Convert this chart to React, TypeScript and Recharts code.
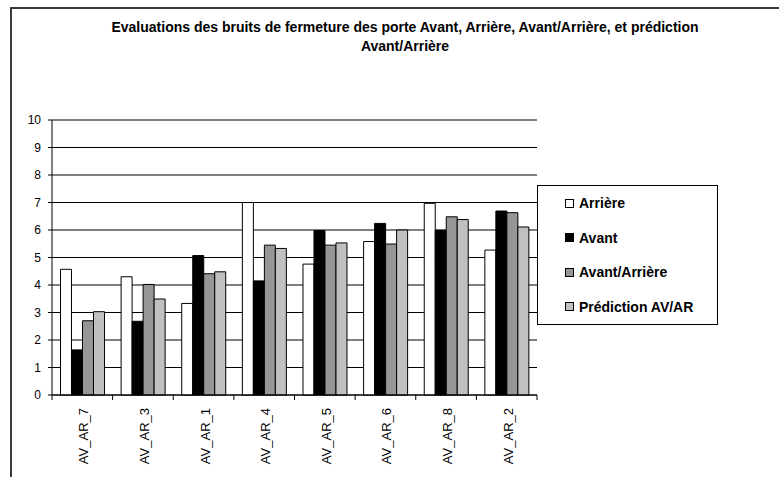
import React from "react";
import { BarChart, Bar, XAxis, YAxis, CartesianGrid } from "recharts";

const categories = ["AV_AR_7", "AV_AR_3", "AV_AR_1", "AV_AR_4", "AV_AR_5", "AV_AR_6", "AV_AR_8", "AV_AR_2"];
const arriere = [4.57, 4.3, 3.33, 7.0, 4.76, 5.58, 6.97, 5.27];
const avant = [1.64, 2.68, 5.07, 4.15, 5.98, 6.24, 5.99, 6.69];
const avantArriere = [2.7, 4.02, 4.41, 5.45, 5.45, 5.49, 6.48, 6.63];
const prediction = [3.03, 3.49, 4.48, 5.33, 5.53, 6.0, 6.38, 6.11];
const yTicks = [0, 1, 2, 3, 4, 5, 6, 7, 8, 9, 10];

const series = [
  { key: "arriere", name: "Arrière", color: "#ffffff" },
  { key: "avant", name: "Avant", color: "#000000" },
  { key: "avantArriere", name: "Avant/Arrière", color: "#969696" },
  { key: "prediction", name: "Prédiction AV/AR", color: "#c0c0c0" },
];

const data = categories.map((name, i) => ({
  name,
  arriere: arriere[i],
  avant: avant[i],
  avantArriere: avantArriere[i],
  prediction: prediction[i],
}));

const FONT = "'Liberation Sans', Arial, sans-serif";
const W = 779;
const H = 477;
const PLOT_LEFT = 52;
const PLOT_RIGHT = 537;
const PLOT_TOP = 120;
const PLOT_BOTTOM = 395;
const HALF_BAND = (PLOT_RIGHT - PLOT_LEFT) / categories.length / 2;

const XTick = (props: any) => {
  const { x, y, payload, index } = props;
  return (
    <g>
      <line x1={x - HALF_BAND} x2={x - HALF_BAND} y1={y} y2={y + 5} stroke="#000" />
      {index === categories.length - 1 && (
        <line x1={x + HALF_BAND} x2={x + HALF_BAND} y1={y} y2={y + 5} stroke="#000" />
      )}
      <text
        transform={`translate(${x + 6},${y + 13}) rotate(-90)`}
        textAnchor="end"
        fontFamily={FONT}
        fontSize={13}
        fill="#000"
      >
        {payload.value}
      </text>
    </g>
  );
};

const LegendBox = () => (
  <div
    style={{
      position: "absolute",
      left: 537,
      top: 185,
      width: 179,
      height: 138,
      border: "1px solid #000",
      background: "#fff",
      fontFamily: FONT,
      fontWeight: "bold",
      fontSize: 14,
    }}
  >
    {series.map((s) => (
      <div key={s.key} style={{ height: 34.5, display: "flex", alignItems: "center" }}>
        <span
          style={{
            display: "inline-block",
            width: 7,
            height: 7,
            marginLeft: 27,
            marginRight: 5,
            border: "1px solid #000",
            background: s.color,
          }}
        />
        <span style={{ color: "#000" }}>{s.name}</span>
      </div>
    ))}
  </div>
);

export default function App() {
  return (
    <div style={{ position: "fixed", left: 0, top: 0, width: W, height: H, overflow: "hidden", background: "#fff" }}>
      <div
        style={{
          position: "absolute",
          left: 10,
          top: 7,
          width: 900,
          height: 600,
          border: "2px solid #3a3a3a",
        }}
      />
      <div
        style={{
          position: "absolute",
          left: 0,
          top: 18,
          width: 810,
          textAlign: "center",
          fontFamily: FONT,
          fontWeight: "bold",
          fontSize: 14,
          lineHeight: "19px",
          color: "#000",
        }}
      >
        Evaluations des bruits de fermeture des porte Avant, Arrière, Avant/Arrière, et prédiction
        <br />
        Avant/Arrière
      </div>
      <div style={{ position: "absolute", left: 0, top: 0 }}>
        <BarChart
          width={W}
          height={H}
          data={data}
          margin={{ top: PLOT_TOP, right: W - PLOT_RIGHT, bottom: 0, left: 0 }}
          barCategoryGap="14%"
          barGap={0}
        >
          <CartesianGrid vertical={false} stroke="#000" />
          <XAxis
            dataKey="name"
            height={H - PLOT_BOTTOM}
            interval={0}
            tickLine={false}
            tickSize={0}
            tickMargin={0}
            axisLine={{ stroke: "#000" }}
            tick={<XTick />}
          />
          <YAxis
            width={PLOT_LEFT}
            domain={[0, 10]}
            ticks={yTicks}
            interval={0}
            tickSize={4}
            tickMargin={7}
            axisLine={{ stroke: "#000" }}
            tickLine={{ stroke: "#000" }}
            tick={{ fill: "#000", fontSize: 12, fontFamily: FONT }}
          />
          <YAxis
            yAxisId="border"
            orientation="right"
            width={0}
            domain={[0, 10]}
            tick={false}
            tickLine={false}
            axisLine={{ stroke: "#808080" }}
          />
          {series.map((s) => (
            <Bar
              key={s.key}
              dataKey={s.key}
              name={s.name}
              fill={s.color}
              stroke="#000"
              isAnimationActive={false}
            />
          ))}
        </BarChart>
      </div>
      <LegendBox />
    </div>
  );
}
